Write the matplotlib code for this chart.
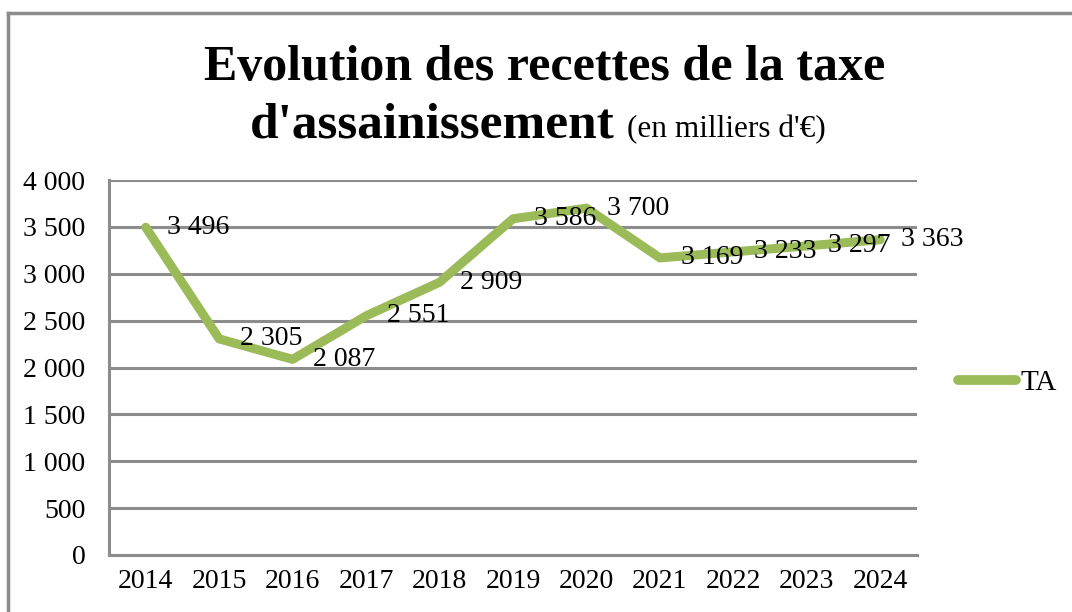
import matplotlib.pyplot as plt
from matplotlib.lines import Line2D

# Données (en milliers d'€)
annees = ['2014', '2015', '2016', '2017', '2018', '2019', '2020', '2021', '2022', '2023', '2024']
recettes_ta = [3496, 2305, 2087, 2551, 2909, 3586, 3700, 3169, 3233, 3297, 3363]
y_ticks = [0, 500, 1000, 1500, 2000, 2500, 3000, 3500, 4000]

plt.rcParams['font.family'] = ['Liberation Serif', 'DejaVu Serif']

vert = '#9BBB59'
gris = '#8C8C8C'


def fmt(v):
    return f"{v:,}".replace(',', ' ')


fig = plt.figure(figsize=(10.72, 6.12), dpi=100)
ax = fig.add_axes([109 / 1072, 1 - 555 / 612, 808 / 1072, 375 / 612])

x = list(range(len(annees)))
ax.plot(x, recettes_ta, color=vert, linewidth=6.5, solid_capstyle='round',
        solid_joinstyle='round', label='TA', zorder=3)

# Étiquettes de données à droite des points
for xi, v in zip(x, recettes_ta):
    ax.annotate(fmt(v), (xi, v), xytext=(15, 0), textcoords='offset points',
                ha='left', va='center', fontsize=20, zorder=4)

ax.set_xlim(-0.5, len(annees) - 0.5)
ax.set_ylim(0, 4000)
ax.set_xticks(x)
ax.set_xticklabels(annees, fontsize=20)
ax.set_yticks(y_ticks)
ax.set_yticklabels([fmt(t) for t in y_ticks], fontsize=20)
ax.tick_params(axis='both', length=0)
ax.tick_params(axis='y', pad=17)
ax.tick_params(axis='x', pad=10)

ax.grid(axis='y', color=gris, linewidth=2.2, zorder=1)
ax.set_axisbelow(True)
for s in ['top', 'right']:
    ax.spines[s].set_visible(False)
for s in ['left', 'bottom']:
    ax.spines[s].set_color(gris)
    ax.spines[s].set_linewidth(2.2)

# Légende
leg = fig.legend(handles=[Line2D([0], [0], color=vert, linewidth=7, solid_capstyle='round')],
                 labels=['TA'], loc='center left', bbox_to_anchor=(958 / 1072, 1 - 383 / 612),
                 frameon=False, fontsize=21, handlelength=2.0, handletextpad=0.15,
                 borderpad=0, borderaxespad=0)

# Titre
fig.text(545 / 1072, 1 - 80 / 612, "Evolution des recettes de la taxe",
         ha='center', va='baseline', fontsize=36, fontweight='bold')
fig.text(615 / 1072, 1 - 137 / 612, "d'assainissement",
         ha='right', va='baseline', fontsize=37, fontweight='bold')
fig.text(627 / 1072, 1 - 137 / 612, "(en milliers d'€)",
         ha='left', va='baseline', fontsize=22.5)

# Cadre extérieur
fig.add_artist(Line2D([8 / 1072, 8 / 1072], [0, 1 - 13 / 612], color=gris, linewidth=2.5,
                      transform=fig.transFigure))
fig.add_artist(Line2D([8 / 1072, 1], [1 - 13 / 612, 1 - 13 / 612], color=gris, linewidth=2.5,
                      transform=fig.transFigure))

fig.savefig('out.png', dpi=100)
